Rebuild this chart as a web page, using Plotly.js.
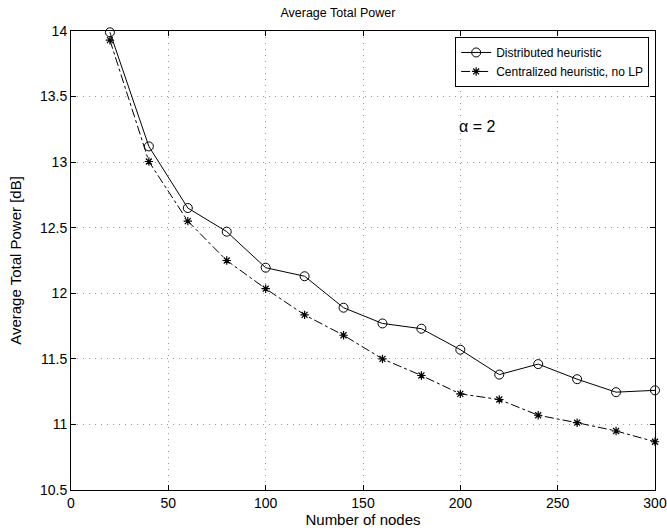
<!DOCTYPE html>
<html>
<head>
<meta charset="utf-8">
<script src="https://cdn.plot.ly/plotly-3.0.1.min.js"></script>
<style>html,body{margin:0;padding:0;background:#fff;}#chart{width:667px;height:531px;}</style>
</head>
<body>
<div id="chart"></div>
<script>
const nodes = [20, 40, 60, 80, 100, 120, 140, 160, 180, 200, 220, 240, 260, 280, 300];
const distributed = [13.99, 13.12, 12.65, 12.47, 12.195, 12.13, 11.89, 11.77, 11.73, 11.57, 11.38, 11.46, 11.345, 11.246, 11.26];
const centralized = [13.93, 13.005, 12.55, 12.25, 12.035, 11.835, 11.68, 11.50, 11.373, 11.233, 11.19, 11.07, 11.013, 10.95, 10.868];
const xTicks = [0, 50, 100, 150, 200, 250, 300];
const yTicks = [10.5, 11, 11.5, 12, 12.5, 13, 13.5, 14];
const yTickText = ['10.5', '11', '11.5', '12', '12.5', '13', '13.5', '14'];

const font = 'Liberation Sans, Arial, Helvetica, sans-serif';

const traces = [
  {
    x: nodes, y: distributed, name: 'Distributed heuristic',
    mode: 'lines+markers', type: 'scatter',
    line: {color: '#000', width: 1},
    marker: {symbol: 'circle-open', size: 9, color: '#000', line: {width: 1, color: '#000'}},
    cliponaxis: false
  },
  {
    x: nodes, y: centralized, name: 'Centralized heuristic, no LP',
    mode: 'lines+markers', type: 'scatter',
    line: {color: '#000', width: 1, dash: 'dashdot'},
    marker: {symbol: 'asterisk-open', size: 7, color: '#000', line: {width: 1.2, color: '#000'}},
    cliponaxis: false
  }
];

const axisCommon = {
  showline: true, linecolor: '#000', linewidth: 1, mirror: 'ticks',
  ticks: 'inside', ticklen: 5, tickcolor: '#000', tickwidth: 1,
  showgrid: true, gridcolor: '#999', griddash: '1px,5px', gridwidth: 1,
  zeroline: false,
  tickfont: {family: font, size: 14, color: '#000'}
};

const layout = {
  width: 667, height: 531,
  margin: {l: 71, r: 12, t: 31, b: 41},
  paper_bgcolor: '#fff', plot_bgcolor: '#fff',
  title: {text: 'Average Total Power', font: {family: font, size: 12.5, color: '#000'},
          xref: 'paper', x: 0.457, xanchor: 'center', yref: 'container', y: 0.977, yanchor: 'middle'},
  xaxis: Object.assign({}, axisCommon, {
    range: [0, 300], tickvals: xTicks, ticktext: xTicks.map(String),
    title: {text: 'Number of nodes', font: {family: font, size: 15, color: '#000'}, standoff: 1}
  }),
  yaxis: Object.assign({}, axisCommon, {
    range: [10.5, 14], tickvals: yTicks, ticktext: yTickText,
    title: {text: 'Average Total Power [dB]', font: {family: font, size: 15, color: '#000'}, standoff: 14}
  }),
  showlegend: true,
  legend: {
    x: 0.99, xanchor: 'right', y: 0.987, yanchor: 'top',
    bgcolor: '#fff', bordercolor: '#000', borderwidth: 1,
    font: {family: font, size: 12, color: '#000'},
    tracegroupgap: 0, itemwidth: 30
  },
  annotations: [
    {x: 0.661, y: 0.791, xref: 'paper', yref: 'paper', xanchor: 'left', yanchor: 'middle',
     text: 'α = 2', showarrow: false, font: {family: font, size: 16, color: '#000'}}
  ]
};

Plotly.newPlot('chart', traces, layout, {displayModeBar: false, staticPlot: true});
</script>
</body>
</html>
